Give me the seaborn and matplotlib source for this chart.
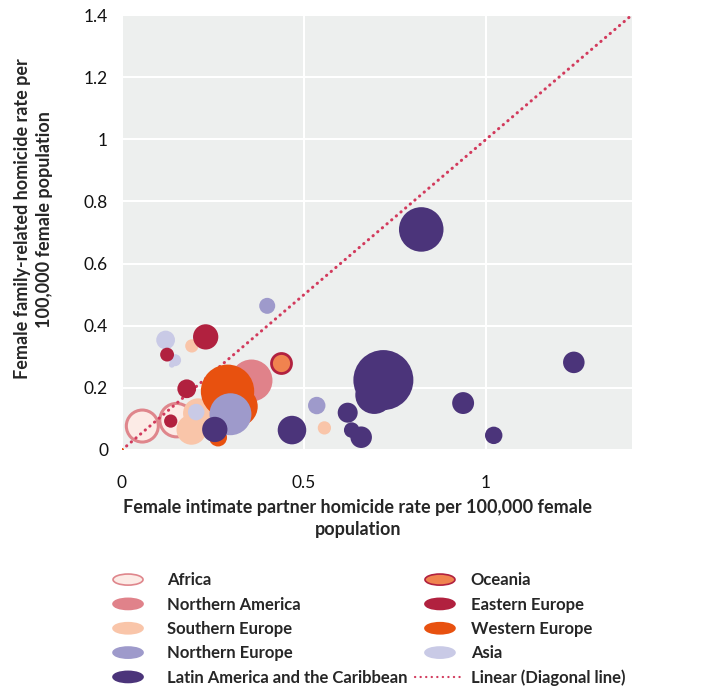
import numpy as np
import pandas as pd
import matplotlib as mpl
import matplotlib.pyplot as plt
import matplotlib.patches as mpatches
from matplotlib.lines import Line2D
from matplotlib.legend_handler import HandlerPatch
import seaborn as sns

# intimate partner rate (x), family-related rate (y), bubble weight, per region
africa_x = [0.056, 0.150]
africa_y = [0.077, 0.096]
africa_w = [64, 70]

nam_x = [0.354]
nam_y = [0.225]
nam_w = [110]

seu_x = [0.192, 0.191, 0.209, 0.556]
seu_y = [0.335, 0.065, 0.118, 0.071]
seu_w = [11, 56, 56, 11]

weu_x = [0.290, 0.318, 0.264, 0.0]
weu_y = [0.189, 0.140, 0.040, 0.0]
weu_w = [178, 100, 20, 1]

neu_x = [0.399, 0.298, 0.535]
neu_y = [0.464, 0.115, 0.143]
neu_w = [16, 110, 19]

asia_x = [0.120, 0.146, 0.137, 0.204]
asia_y = [0.354, 0.289, 0.274, 0.122]
asia_w = [22, 9, 2, 17]

eeu_x = [0.230, 0.124, 0.178, 0.134]
eeu_y = [0.364, 0.307, 0.197, 0.093]
eeu_w = [40, 12, 22, 11]

oce_x = [0.437]
oce_y = [0.279]
oce_w = [25]

lac_x = [0.255, 0.467, 0.620, 0.631, 0.657, 0.718, 0.693, 0.822, 0.937, 1.021, 1.241]
lac_y = [0.066, 0.064, 0.120, 0.064, 0.041, 0.225, 0.177, 0.710, 0.151, 0.047, 0.282]
lac_w = [40, 51, 25, 15, 29, 225, 90, 124, 30, 19, 29]

diag_x = [0, 1.4]
diag_y = [0, 1.4]

xticks = [0, 0.5, 1]
xtick_labels = ["0", "0.5", "1"]
yticks = [0, 0.2, 0.4, 0.6, 0.8, 1.0, 1.2, 1.4]
ytick_labels = ["0", "0.2", "0.4", "0.6", "0.8", "1", "1.2", "1.4"]

sns.set_theme(style="white")
plt.rcParams['font.family'] = ['Lato', 'DejaVu Sans']

fig = plt.figure(figsize=(7.13, 6.88), dpi=100)
ax = fig.add_axes([0.171, 0.346, 0.715, 0.632])
ax.set_facecolor("#EDEFEE")

wmax = 225
norm = (0, wmax)
szs = (0, 8.29 * wmax)

def bubbles(xs, ys, ws, face, edge=None, lw=0, z=3):
    df = pd.DataFrame({"x": xs, "y": ys, "w": ws})
    sns.scatterplot(data=df, x="x", y="y", size="w", sizes=szs, size_norm=norm,
                    color=face, edgecolor=edge if edge else face,
                    linewidth=lw, legend=False, ax=ax, zorder=z)

bubbles(africa_x, africa_y, africa_w, "#FCEBE6", "#DF868C", 2.2)
ax.plot(diag_x, diag_y, color="#D23A5C", linestyle=(0, (0.1, 1.9)),
        linewidth=2.2, dash_capstyle="round", zorder=3)
bubbles(nam_x, nam_y, nam_w, "#E0828A", z=4)
bubbles(seu_x, seu_y, seu_w, "#F9C5A9", z=4)
bubbles(weu_x, weu_y, weu_w, "#E8510F", z=4)
bubbles(neu_x, neu_y, neu_w, "#9E9ACB", z=4)
bubbles(asia_x, asia_y, asia_w, "#C9CAE6", z=4)
bubbles(eeu_x, eeu_y, eeu_w, "#B1213F", z=4)
bubbles(oce_x, oce_y, oce_w, "#F0834F", "#B1213F", 2.0, z=4)
bubbles(lac_x, lac_y, lac_w, "#4B347A", z=4)

ax.set_xlim(0, 1.4)
ax.set_ylim(0, 1.4)
ax.set_xticks(xticks)
ax.set_xticklabels(xtick_labels)
ax.set_yticks(yticks)
ax.set_yticklabels(ytick_labels)
ax.grid(True, color="white", linewidth=1.5)
ax.set_axisbelow(True)
for s in ax.spines.values():
    s.set_visible(False)
ax.tick_params(axis="x", labelsize=12.5, pad=18, length=0, colors="#111111")
ax.tick_params(axis="y", labelsize=12.5, pad=10, length=0, colors="#111111")

ax.set_xlabel("Female intimate partner homicide rate per 100,000 female\npopulation",
              fontsize=13, fontweight="bold", labelpad=6, linespacing=1.35)
ax.set_ylabel("Female family-related homicide rate per\n100,000 female population",
              fontsize=13, fontweight="bold", labelpad=22, linespacing=1.35)
ax.xaxis.label.set_x(0.463)
ax.yaxis.label.set_y(0.531)


def make_ellipse(legend, orig_handle, xdescent, ydescent, width, height, fontsize):
    return mpatches.Ellipse(xy=(0.5 * width - xdescent, 0.5 * height - ydescent),
                            width=width * 0.6, height=height * 0.95)

labels = ["Africa", "Northern America", "Southern Europe", "Northern Europe",
          "Latin America and the Caribbean", "Oceania", "Eastern Europe",
          "Western Europe", "Asia", "Linear (Diagonal line)"]
faces = ["#FCEBE6", "#E0828A", "#F9C5A9", "#9E9ACB", "#4B347A",
         "#F0834F", "#B1213F", "#E8510F", "#C9CAE6"]
edges = ["#DF868C", "#E0828A", "#F9C5A9", "#9E9ACB", "#4B347A",
         "#B1213F", "#B1213F", "#E8510F", "#C9CAE6"]
handles = [mpatches.Patch(facecolor=f, edgecolor=e, linewidth=1.2) for f, e in zip(faces, edges)]
handles.append(Line2D([0], [0], color="#D23A5C", linestyle=(0, (0.1, 2.4)),
                      linewidth=1.6, dash_capstyle="round"))

leg_kw = dict(loc="upper left", frameon=False, prop={"weight": "bold", "size": 12},
              handlelength=3.0, labelspacing=0.5,
              borderpad=0, borderaxespad=0,
              handler_map={mpatches.Patch: HandlerPatch(patch_func=make_ellipse)})
leg1 = fig.legend(handles[:5], labels[:5], bbox_to_anchor=(0.1445, 0.168),
                  handletextpad=0.85, **leg_kw)
leg2 = fig.legend(handles[5:], labels[5:], bbox_to_anchor=(0.582, 0.168),
                  handletextpad=0.35, **leg_kw)

fig.savefig("out.png", dpi=100)
